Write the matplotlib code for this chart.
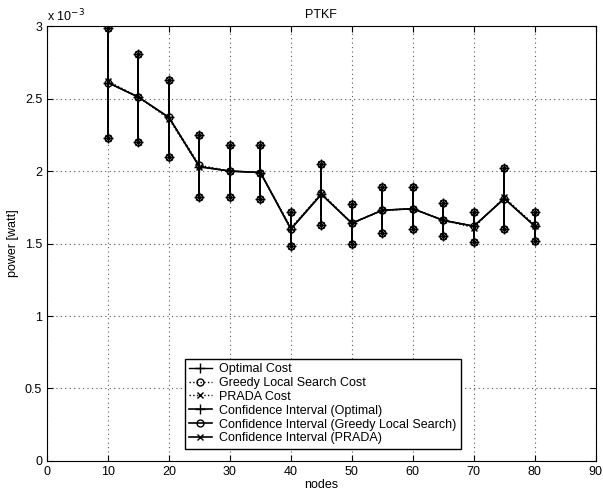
import matplotlib.pyplot as plt
from matplotlib.ticker import FuncFormatter, MultipleLocator

plt.rcParams['font.family'] = ['Liberation Sans', 'DejaVu Sans']
plt.rcParams['font.size'] = 9

nodes = [10, 15, 20, 25, 30, 35, 40, 45, 50, 55, 60, 65, 70, 75, 80]
# mean cost (x 1e-3 watt)
optimal = [2.61, 2.51, 2.37, 2.03, 2.00, 1.99, 1.60, 1.84, 1.64, 1.73, 1.74, 1.66, 1.62, 1.81, 1.62]
greedy = [2.61, 2.51, 2.37, 2.04, 2.00, 1.99, 1.60, 1.85, 1.64, 1.73, 1.74, 1.66, 1.62, 1.81, 1.63]
prada = [2.62, 2.51, 2.36, 2.03, 2.00, 1.99, 1.61, 1.84, 1.64, 1.73, 1.74, 1.66, 1.61, 1.82, 1.62]
# confidence intervals
ci_hi = [2.99, 2.81, 2.63, 2.25, 2.18, 2.18, 1.72, 2.05, 1.77, 1.89, 1.89, 1.78, 1.72, 2.02, 1.72]
ci_lo = [2.23, 2.20, 2.10, 1.82, 1.82, 1.81, 1.48, 1.63, 1.50, 1.57, 1.60, 1.55, 1.51, 1.60, 1.52]

s = 1e-3
fig = plt.figure(figsize=(6.03, 4.93), dpi=100)
ax = fig.add_axes([0.078, 0.065, 0.910, 0.882])

ax.plot(nodes, [v * s for v in optimal], 'k-+', lw=1, ms=7, label='Optimal Cost')
ax.plot(nodes, [v * s for v in greedy], 'k:o', lw=1, ms=5, mfc='none', label='Greedy Local Search Cost')
ax.plot(nodes, [v * s for v in prada], 'k:x', lw=1, ms=5, label='PRADA Cost')

markers = ['+', 'o', 'x']
names = ['Confidence Interval (Optimal)', 'Confidence Interval (Greedy Local Search)',
         'Confidence Interval (PRADA)']
for m, name in zip(markers, names):
    for i, n in enumerate(nodes):
        ax.plot([n, n], [ci_lo[i] * s, ci_hi[i] * s], 'k-', marker=m, lw=1.2,
                ms=7 if m == '+' else 5, mfc='none', label=name if i == 0 else None)

# solid line over means
ax.plot(nodes, [v * s for v in optimal], 'k-', lw=1.2)

ax.set_xlim(0, 90)
ax.set_ylim(0, 3e-3)
ax.xaxis.set_major_locator(MultipleLocator(10))
ax.yaxis.set_major_locator(MultipleLocator(0.5e-3))
ax.yaxis.set_major_formatter(FuncFormatter(lambda v, p: f'{v / s:g}'))
ax.text(0.0, 1.005, r'x 10$^{-3}$', transform=ax.transAxes, ha='left', va='bottom', fontsize=9)
ax.tick_params(direction='in', top=True, right=True, length=4)
ax.grid(True, linestyle=(0, (1, 3)), color='0.35', lw=0.8)
ax.set_xlabel('nodes', labelpad=1)
ax.set_ylabel('power [watt]', labelpad=4)
ax.set_title('PTKF', fontsize=9, pad=6)

leg = ax.legend(loc='lower left', bbox_to_anchor=(0.251, 0.028), fancybox=False,
                edgecolor='k', framealpha=1, borderpad=0.35, labelspacing=0.15,
                handlelength=1.8, handletextpad=0.6, borderaxespad=0, fontsize=9)
leg.get_frame().set_linewidth(1)

fig.savefig('out.png', dpi=100)
